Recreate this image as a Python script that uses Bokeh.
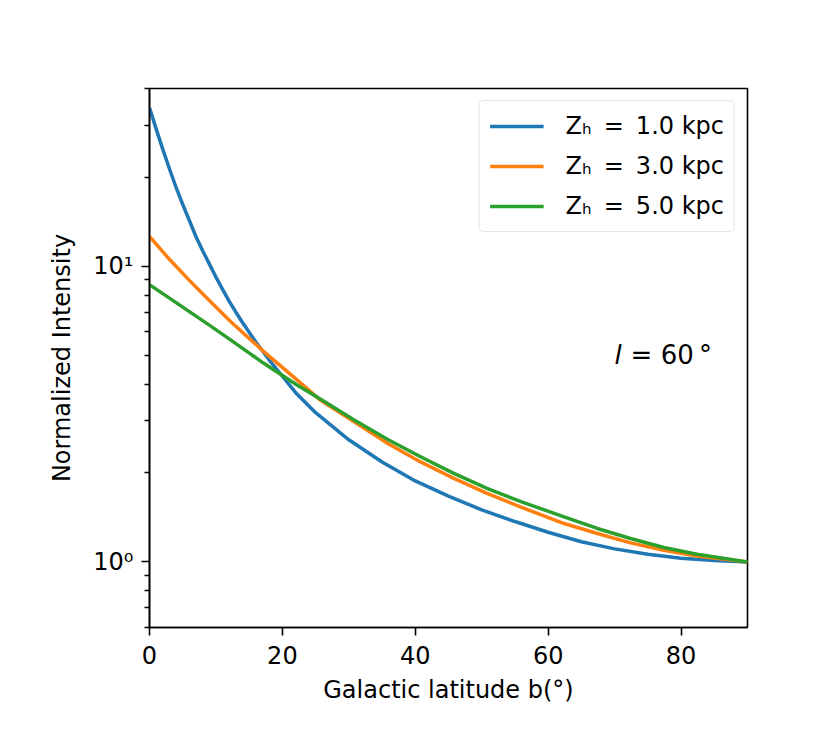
from bokeh.plotting import figure
from bokeh.models import (Range1d, Legend, LegendItem, Label, CustomJSTickFormatter,
                          FixedTicker)
from bokeh.embed import file_html
from bokeh.resources import INLINE

# Galactic latitude b (degrees) and normalized intensity
b_zh1 = [0, 1, 2, 3, 4, 5, 6, 7, 8, 9, 10, 11, 12, 13, 14, 16, 18, 20, 22, 25, 30,
         35, 40, 45, 50, 55, 60, 65, 70, 75, 80, 85, 90]
i_zh1 = [34.4, 29.2, 24.9, 21.4, 18.5, 16.2, 14.3, 12.6, 11.3, 10.2, 9.2, 8.36, 7.62,
         7.0, 6.46, 5.55, 4.83, 4.25, 3.74, 3.20, 2.59, 2.18, 1.88, 1.67, 1.50, 1.37,
         1.26, 1.17, 1.107, 1.062, 1.030, 1.012, 1.0]

b_zh35 = [0, 3, 6, 9, 12.2, 17.2, 22.2, 25.7, 30.8, 35.8, 40.8, 45.8, 50.8, 55.8,
          62.4, 67.4, 72.4, 77.4, 82.4, 90]
i_zh3 = [12.64, 10.57, 8.97, 7.67, 6.51, 5.15, 4.13, 3.53, 2.98, 2.52, 2.18, 1.918,
         1.706, 1.536, 1.349, 1.248, 1.160, 1.096, 1.048, 1.0]
i_zh5 = [8.67, 7.81, 7.03, 6.33, 5.64, 4.70, 3.97, 3.56, 3.02, 2.60, 2.27, 1.994,
         1.774, 1.603, 1.420, 1.298, 1.200, 1.119, 1.062, 1.0]

labels = ["Z\u2095\u2002=\u20021.0 kpc", "Z\u2095\u2002=\u20023.0 kpc", "Z\u2095\u2002=\u20025.0 kpc"]
colors = ["#1f77b4", "#ff7f0e", "#2ca02c"]
x_ticks = [0, 20, 40, 60, 80]
y_major = [1, 10]
y_minor = [m * 10.0 ** k for k in (-1, 0, 1) for m in range(2, 10)]

FONT = "DejaVu Sans"

p = figure(frame_width=598, frame_height=539, min_border_left=149, min_border_top=88,
           min_border_right=75, min_border_bottom=101,
           x_range=Range1d(0, 90), y_range=Range1d(0.6, 40), y_axis_type="log",
           output_backend="svg", toolbar_location=None)
p.background_fill_color = "white"
p.border_fill_color = "white"
p.grid.visible = False
p.outline_line_color = "black"
p.outline_line_width = 1.6

renderers = []
for xs, ys, c in [(b_zh1, i_zh1, colors[0]), (b_zh35, i_zh3, colors[1]), (b_zh35, i_zh5, colors[2])]:
    renderers.append(p.line(xs, ys, line_color=c, line_width=3.5, line_join="round"))

p.xaxis.ticker = FixedTicker(ticks=x_ticks)
p.yaxis.ticker = FixedTicker(ticks=y_major, minor_ticks=y_minor)
p.yaxis.formatter = CustomJSTickFormatter(code="""
const sup = {'0':'\u2070','1':'\u00b9','2':'\u00b2','3':'\u00b3','4':'\u2074','5':'\u2075','6':'\u2076','7':'\u2077','8':'\u2078','9':'\u2079','-':'\u207b'};
const e = Math.round(Math.log10(tick));
return '10' + String(e).split('').map(c => sup[c]).join('');
""")

for ax in (p.xaxis[0], p.yaxis[0]):
    ax.axis_line_width = 1.6
    ax.major_tick_line_width = 1.6
    ax.minor_tick_line_width = 1.3
    ax.major_tick_out = 8
    ax.major_tick_in = 0
    ax.minor_tick_out = 5
    ax.minor_tick_in = 0
    ax.major_label_text_font = FONT
    ax.major_label_text_font_size = "24px"
    ax.major_label_text_color = "black"
    ax.axis_label_text_font = FONT
    ax.axis_label_text_font_size = "24px"
    ax.axis_label_text_font_style = "normal"
    ax.axis_label_text_color = "black"
p.xaxis.minor_tick_line_color = None
p.xaxis.major_label_standoff = 10
p.yaxis.major_label_standoff = 8
p.xaxis.axis_label = "Galactic latitude b(\u00b0)"
p.yaxis.axis_label = "Normalized Intensity"
p.xaxis.axis_label_standoff = 9
p.yaxis.axis_label_standoff = 14

legend = Legend(items=[LegendItem(label=l, renderers=[r]) for l, r in zip(labels, renderers)],
                location="top_right")
legend.label_text_font = FONT
legend.label_text_font_size = "24px"
legend.label_text_color = "black"
legend.glyph_width = 54
legend.glyph_height = 30
legend.label_height = 30
legend.spacing = 10
legend.padding = 10
legend.margin = 12
legend.label_standoff = 22
legend.border_line_color = "#cccccc"
legend.border_line_width = 1.5
legend.background_fill_alpha = 0.8
if hasattr(legend, "border_radius"):
    legend.border_radius = 5
p.add_layout(legend)

p.add_layout(Label(x=70, y=5, text="l", text_font=FONT, text_font_size="26px",
                   text_font_style="italic", text_baseline="alphabetic", text_align="left",
                   text_color="black"))
p.add_layout(Label(x=70, y=5, x_offset=16, text="= 60\u2009\u00b0", text_font=FONT,
                   text_font_size="26px", text_baseline="alphabetic", text_align="left",
                   text_color="black"))

open("out.html", "w").write(file_html(p, INLINE))
